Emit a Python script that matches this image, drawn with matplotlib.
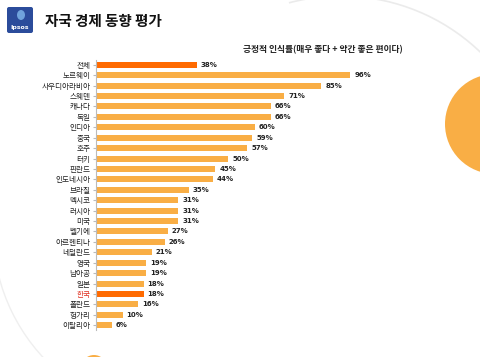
import matplotlib.pyplot as plt
import matplotlib.patches as mpatches

plt.rcParams['font.family'] = ['Noto Sans CJK KR', 'DejaVu Sans']

# ── data ──────────────────────────────────────────────────────────────────────
countries = ["전체", "노르웨이", "사우디아라비아", "스웨덴", "캐나다", "독일", "인디아",
             "중국", "호주", "터키", "핀란드", "인도네시아", "브라질", "멕시코", "러시아",
             "미국", "벨기에", "아르헨티나", "네덜란드", "영국", "남아공", "일본", "한국",
             "폴란드", "헝가리", "이탈리아"]
values = [38, 96, 85, 71, 66, 66, 60, 59, 57, 50, 45, 44, 35, 31, 31, 31, 27, 26,
          21, 19, 19, 18, 18, 16, 10, 6]
highlight = ["전체", "한국"]

BAR = "#F9AE45"
HI = "#FF6A00"
W, H = 480, 357

fig = plt.figure(figsize=(W / 100, H / 100), dpi=100)
fig.patch.set_facecolor("white")

# ── decoration layer in pixel coordinates ─────────────────────────────────────
deco = fig.add_axes([0, 0, 1, 1], zorder=0)
deco.set_xlim(0, W)
deco.set_ylim(H, 0)
deco.axis("off")
deco.add_patch(mpatches.Arc((341, 197), 402, 402, theta1=-105, theta2=-25,
                            ec="#EBEBEB", lw=1.2))
deco.add_patch(mpatches.Arc((180, 230), 374, 374, theta1=130, theta2=178,
                            ec="#EFEFEF", lw=1.0))
deco.add_patch(mpatches.Circle((495, 124), 50, color=BAR, ec="none"))
deco.add_patch(mpatches.Circle((94, 368), 13, color=BAR, ec="none"))

# logo
deco.add_patch(mpatches.FancyBboxPatch((7, 7), 26, 26, boxstyle="round,pad=0,rounding_size=2",
                                       fc="#2B4C9B", ec="none"))
deco.add_patch(mpatches.Ellipse((21, 15), 8, 10, color="#6FA3DC", ec="none"))
deco.text(20, 27, "Ipsos", color="white", fontsize=4.5, fontweight="bold",
          ha="center", va="center", family="DejaVu Sans")

deco.text(45, 21, "자국 경제 동향 평가", fontsize=10.5, fontweight="bold",
          ha="left", va="center", color="#111111")
deco.text(323, 50, "긍정적 인식률(매우 좋다 + 약간 좋은 편이다)", fontsize=6.3,
          fontweight="bold", ha="center", va="center", color="#222222")

# ── bar chart ─────────────────────────────────────────────────────────────────
left = 96 / W
right = (96 + 265) / W
top = 1 - 59.6 / H
bottom = 1 - 330.4 / H
ax = fig.add_axes([left, bottom, right - left, top - bottom], zorder=1)
ax.patch.set_alpha(0)

ypos = list(range(len(countries)))
colors = [HI if c in highlight else BAR for c in countries]
ax.barh(ypos, values, height=0.58, color=colors, edgecolor="none")
for y, v in zip(ypos, values):
    ax.text(v + 1.5, y, f"{v}%", va="center", ha="left", fontsize=5,
            fontweight="bold", color="#222222", family="DejaVu Sans")

ax.set_xlim(0, 100)
ax.set_ylim(len(countries) - 0.5, -0.5)
ax.set_yticks(ypos)
ax.set_yticklabels(countries, fontsize=5.5)
for lbl in ax.get_yticklabels():
    if lbl.get_text() == "한국":
        lbl.set_color("#E03020")
    else:
        lbl.set_color("#222222")
ax.tick_params(axis="y", length=2, color="#BBBBBB", pad=2)
ax.set_xticks([])
for s in ["top", "right", "bottom"]:
    ax.spines[s].set_visible(False)
ax.spines["left"].set_color("#BBBBBB")
ax.spines["left"].set_linewidth(0.8)

fig.savefig("out.png", dpi=100, facecolor="white")
